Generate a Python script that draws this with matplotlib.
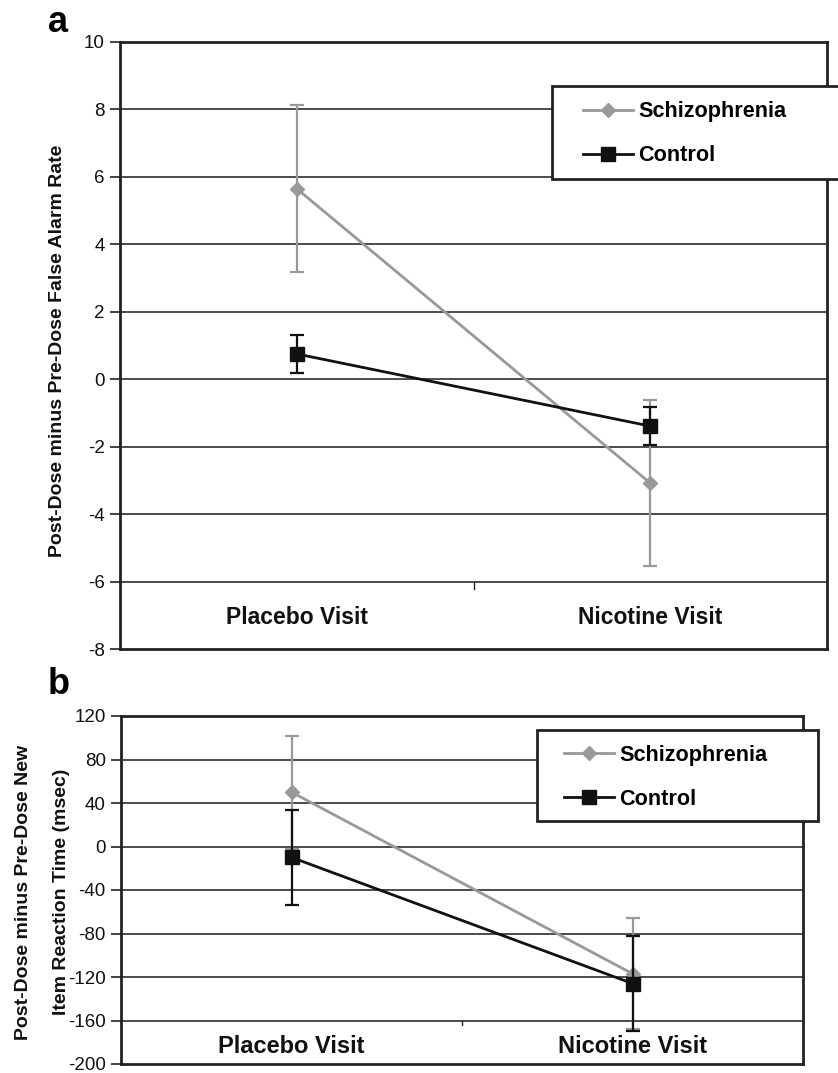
import numpy as np
import matplotlib
matplotlib.use("Agg")
import matplotlib.pyplot as plt
from matplotlib.patches import Rectangle
from matplotlib.lines import Line2D

plt.rcParams['font.family'] = ['Liberation Sans', 'DejaVu Sans']

# ---- data ----
categories = ["Placebo Visit", "Nicotine Visit"]
series_names = ["Schizophrenia", "Control"]

# panel a: false alarm rate change
a_schiz = [5.65, -3.08]
a_schiz_err = [2.47, 2.47]
a_ctrl = [0.75, -1.39]
a_ctrl_err = [0.56, 0.56]
a_yticks = [-8, -6, -4, -2, 0, 2, 4, 6, 8, 10]

# panel b: new item reaction time change (msec)
b_schiz = [50, -117]
b_schiz_err = [52, 51]
b_ctrl = [-10, -126]
b_ctrl_err = [44, 44]
b_yticks = [-200, -160, -120, -80, -40, 0, 40, 80, 120]

W, H = 838, 1073
fig = plt.figure(figsize=(W / 100, H / 100), dpi=100)

GRAY = '#999999'
BLACK = '#111111'
FRAME = '#222222'


def fx(px):
    return px / W


def fy(py):
    return 1 - py / H


def make_panel(rect, schiz, schiz_err, ctrl, ctrl_err, yticks, cat_axis_y, label_y, cat_fs):
    ax = fig.add_axes(rect)
    xs = np.arange(len(categories)) + 0.5
    ax.set_xlim(0, len(categories))
    ax.set_ylim(yticks[0], yticks[-1])
    ax.set_yticks(yticks)
    ax.set_yticklabels([str(t) for t in yticks], fontsize=13.5)
    ax.set_xticks([])
    ax.tick_params(axis='y', direction='out', length=7, width=1.2, pad=4, colors=FRAME)
    ax.tick_params(axis='y', labelcolor='#111111')
    for t in yticks[1:-1]:
        ax.axhline(t, color='#1a1a1a', lw=1.1, zorder=1)
    for s in ax.spines.values():
        s.set_linewidth(2.0)
        s.set_color(FRAME)
    # category axis middle tick
    rng = yticks[-1] - yticks[0]
    ax.plot([1, 1], [cat_axis_y, cat_axis_y - rng * 0.012], color=FRAME, lw=1.0,
            clip_on=False, zorder=2)
    ax.errorbar(xs, schiz, yerr=schiz_err, color=GRAY, lw=2.0, marker='D', ms=7.2,
                mfc=GRAY, mec=GRAY, capsize=5, capthick=1.6, elinewidth=1.6, zorder=3)
    ax.errorbar(xs, ctrl, yerr=ctrl_err, color=BLACK, lw=2.0, marker='s', ms=10,
                mfc=BLACK, mec=BLACK, capsize=5, capthick=1.6, elinewidth=1.6, zorder=4)
    for x, c in zip(xs, categories):
        ax.text(x, label_y, c, ha='center', va='center', fontsize=cat_fs,
                fontweight='bold', color=BLACK)
    return ax


ax_a = make_panel([fx(120), fy(649), fx(827) - fx(120), fy(42) - fy(649)],
                  a_schiz, a_schiz_err, a_ctrl, a_ctrl_err, a_yticks, -6, -7.07, 16.5)
ax_b = make_panel([fx(121), fy(1064), fx(803) - fx(121), fy(716) - fy(1064)],
                  b_schiz, b_schiz_err, b_ctrl, b_ctrl_err, b_yticks, -160, -184.3, 17)

# y labels
fig.text(fx(58), fy(351), "Post-Dose minus Pre-Dose False Alarm Rate", rotation=90,
         ha='center', va='center', fontsize=14, fontweight='bold', color=BLACK)
fig.text(fx(24), fy(892), "Post-Dose minus Pre-Dose New", rotation=90,
         ha='center', va='center', fontsize=14, fontweight='bold', color=BLACK)
fig.text(fx(61), fy(892), "Item Reaction Time (msec)", rotation=90,
         ha='center', va='center', fontsize=14, fontweight='bold', color=BLACK)

# panel letters
fig.text(fx(48), fy(22), "a", ha='left', va='center', fontsize=26, fontweight='bold')
fig.text(fx(48), fy(685), "b", ha='left', va='center', fontsize=26, fontweight='bold')

# legends
handles = [Line2D([], [], color=GRAY, lw=2.0, marker='D', ms=7.2, mfc=GRAY, mec=GRAY),
           Line2D([], [], color=BLACK, lw=2.0, marker='s', ms=10, mfc=BLACK, mec=BLACK)]


def add_legend(box, anchor):
    x0, y0, x1, y1 = box
    fig.add_artist(Rectangle((fx(x0), fy(y1)), fx(x1) - fx(x0), fy(y0) - fy(y1),
                             transform=fig.transFigure, facecolor='white',
                             edgecolor=FRAME, lw=2.0, zorder=4))
    leg = fig.legend(handles, series_names, loc='upper left',
                     bbox_to_anchor=(fx(anchor[0]), fy(anchor[1])),
                     frameon=False, borderpad=0, borderaxespad=0, handlelength=2.3,
                     handletextpad=0.25, labelspacing=1.05, numpoints=1,
                     prop={'size': 15.6, 'weight': 'bold'})
    leg.set_zorder(5)


add_legend((552, 86, 842, 179), (583, 101.5))
add_legend((537, 730, 818, 821), (564, 745))

fig.savefig("out.png", dpi=100)
